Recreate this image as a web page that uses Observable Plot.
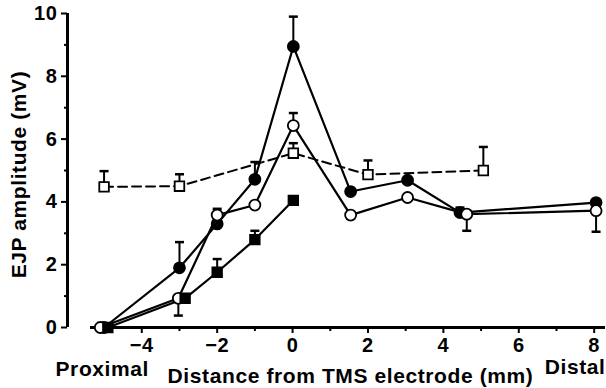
<!DOCTYPE html>
<html>
<head>
<meta charset="utf-8">
<script src="https://cdn.jsdelivr.net/npm/d3@7"></script>
<script src="https://cdn.jsdelivr.net/npm/@observablehq/plot@0.6"></script>
<style>
  html, body { margin: 0; padding: 0; background: #fff; }
</style>
</head>
<body>
<div id="chart"></div>
<script>
// ---- Tick values ----
const xTicks = [-4, -2, 0, 2, 4, 6, 8];
const xMinorTicks = [-3, -1, 1, 3, 5, 7];
const yTicks = [0, 2, 4, 6, 8, 10];
const yMinorTicks = [1, 3, 5, 7, 9];

// ---- Labels ----
const yLabel = "EJP amplitude (mV)";
const xLabel = "Distance from TMS electrode (mm)";
const leftEndLabel = "Proximal";
const rightEndLabel = "Distal";

// ---- Filled circles (solid line) ----
const fcX = [-5.0, -3.0, -2.0, -1.0, 0.02, 1.54, 3.05, 4.44, 8.05];
const fcY = [0, 1.9, 3.3, 4.72, 8.95, 4.33, 4.69, 3.66, 3.98];
const fcUp = [0, 0.82, 0, 0.55, 0.95, 0, 0, 0.16, 0];
const fcDown = [0, 0, 0, 0, 0, 0, 0, 0, 0];

// ---- Open circles (solid line) ----
const ocX = [-5.1, -3.03, -2.0, -1.0, 0.02, 1.54, 3.05, 4.62, 8.05];
const ocY = [0, 0.93, 3.58, 3.9, 6.43, 3.58, 4.14, 3.61, 3.72];
const ocUp = [0, 0, 0.2, 0, 0.4, 0, 0, 0, 0];
const ocDown = [0, 0.55, 0, 0, 0, 0.12, 0.08, 0.53, 0.67];

// ---- Filled squares (solid line) ----
const fsX = [-4.9, -2.85, -2.0, -1.0, 0.02];
const fsY = [0, 0.93, 1.76, 2.8, 4.05];
const fsUp = [0, 0, 0.42, 0.28, 0];
const fsDown = [0, 0, 0, 0, 0];

// ---- Open squares (dashed line) ----
const osX = [-5.0, -3.0, 0.02, 2.0, 5.06];
const osY = [4.48, 4.5, 5.55, 4.87, 5.0];
const osUp = [0.5, 0.38, 0.32, 0.45, 0.75];
const osDown = [0, 0, 0, 0, 0];

const xDomain = [-5.97, 8.3];
const xAxisStart = -5.36;

const seriesDefs = [
  {key: "fc", x: fcX, y: fcY, up: fcUp, down: fcDown, symbol: "circle", fill: "black", dashed: false},
  {key: "oc", x: ocX, y: ocY, up: ocUp, down: ocDown, symbol: "circle", fill: "white", dashed: false},
  {key: "fs", x: fsX, y: fsY, up: fsUp, down: fsDown, symbol: "square", fill: "black", dashed: false},
  {key: "os", x: osX, y: osY, up: osUp, down: osDown, symbol: "square", fill: "white", dashed: true}
];

const points = [];
const errs = [];
for (const s of seriesDefs) {
  s.x.forEach((xv, i) => {
    points.push({series: s.key, x: xv, y: s.y[i], symbol: s.symbol, fill: s.fill, dashed: s.dashed});
    if (s.up[i] > 0) errs.push({x: xv, y: s.y[i], yEnd: s.y[i] + s.up[i]});
    if (s.down[i] > 0) errs.push({x: xv, y: s.y[i], yEnd: s.y[i] - s.down[i]});
  });
}

const capSymbol = {
  draw(context, size) {
    const h = Math.sqrt(size / Math.PI);
    context.moveTo(-h, 0);
    context.lineTo(h, 0);
  }
};

const font = "'Liberation Sans', Arial, Helvetica, sans-serif";

const chart = Plot.plot({
  width: 606,
  height: 388,
  marginLeft: 67,
  marginRight: 1,
  marginTop: 13,
  marginBottom: 61,
  x: {domain: xDomain},
  y: {domain: [0, 10]},
  style: {fontFamily: font, fontWeight: "bold", color: "black", background: "white", overflow: "visible", letterSpacing: "0.6px"},
  marks: [
    // axes
    Plot.axisY({ticks: yTicks, tickSize: 6, tickPadding: 4, fontSize: 20, fontWeight: "bold", strokeWidth: 2, label: null}),
    Plot.axisY({ticks: yMinorTicks, tickSize: 3, tickFormat: () => "", strokeWidth: 2, label: null}),
    Plot.axisX({ticks: xTicks, tickSize: 6, tickPadding: 4, fontSize: 20, fontWeight: "bold", strokeWidth: 2, label: null}),
    Plot.axisX({ticks: xMinorTicks, tickSize: 4, tickFormat: () => "", strokeWidth: 2, label: null}),
    Plot.ruleX([xDomain[0]], {y1: 0, y2: 10, strokeWidth: 3}),
    Plot.ruleY([0], {x1: xAxisStart, x2: xDomain[1], strokeWidth: 3}),

    // error bars
    Plot.ruleX(errs, {x: "x", y1: "y", y2: "yEnd", strokeWidth: 2}),
    Plot.dot(errs, {x: "x", y: "yEnd", symbol: capSymbol, r: 4.5, stroke: "black", strokeWidth: 2.5}),

    // lines
    Plot.line(points.filter(d => !d.dashed), {x: "x", y: "y", z: "series", stroke: "black", strokeWidth: 2.2}),
    Plot.line(points.filter(d => d.dashed), {x: "x", y: "y", z: "series", stroke: "black", strokeWidth: 2, strokeDasharray: "9,5"}),

    // markers
    Plot.dot(points.filter(d => d.symbol === "circle"), {x: "x", y: "y", symbol: "circle", r: 5.5, fill: d => d.fill, stroke: "black", strokeWidth: 1.8}),
    Plot.dot(points.filter(d => d.symbol === "square"), {x: "x", y: "y", symbol: "square", r: 5.4, fill: d => d.fill, stroke: "black", strokeWidth: 1.8}),

    // labels
    Plot.text([yLabel], {frameAnchor: "left", rotate: -90, dx: -48, dy: 4, textAnchor: "middle", fontSize: 21, fontWeight: "bold"}),
    Plot.text([xLabel], {frameAnchor: "bottom", dx: 14, dy: 55, textAnchor: "middle", fontSize: 21, fontWeight: "bold"}),
    Plot.text([leftEndLabel], {frameAnchor: "bottom-left", dx: -12, dy: 48, textAnchor: "start", fontSize: 21, fontWeight: "bold", letterSpacing: "0px"}),
    Plot.text([rightEndLabel], {frameAnchor: "bottom-right", dx: 0, dy: 46, textAnchor: "end", fontSize: 21, fontWeight: "bold"})
  ]
});

document.getElementById("chart").appendChild(chart);
</script>
</body>
</html>
